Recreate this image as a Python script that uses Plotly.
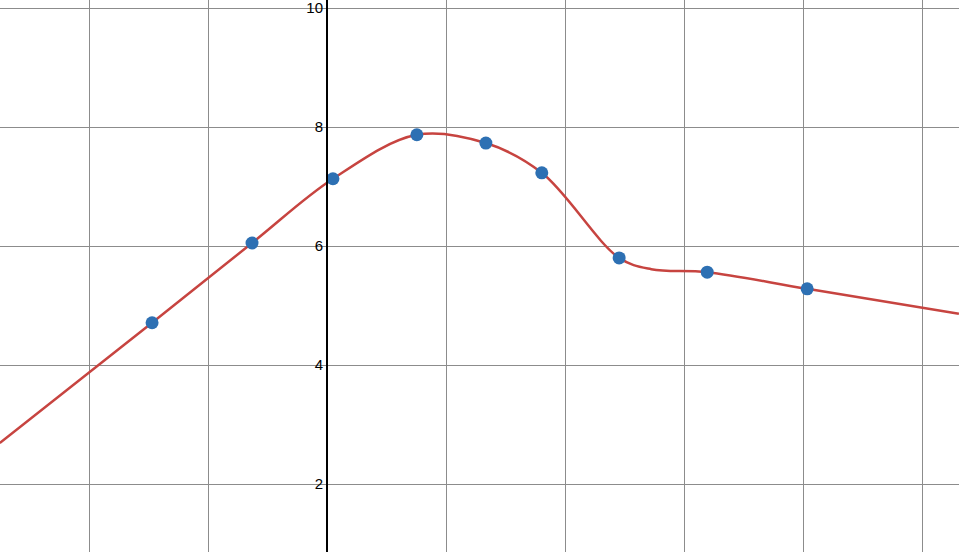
import plotly.graph_objects as go

# measured points (x, y)
pts_x = [-2.94, -1.26, 0.10, 1.51, 2.67, 3.61, 4.91, 6.39, 8.07]
pts_y = [4.71, 6.05, 7.13, 7.87, 7.73, 7.23, 5.80, 5.56, 5.28]

# curve, extended to the plot edges
curve_x = [-5.50, -2.94, -1.26, 0.10, 1.51, 2.67, 3.61, 4.91, 5.45, 6.39, 8.07, 10.62]
curve_y = [2.69, 4.71, 6.05, 7.13, 7.87, 7.73, 7.23, 5.80, 5.61, 5.56, 5.28, 4.86]

y_ticks = [2, 4, 6, 8, 10]

fig = go.Figure()

fig.add_trace(
    go.Scatter(
        x=curve_x,
        y=curve_y,
        mode='lines',
        line=dict(color='#c74440', width=2.5, shape='spline', smoothing=1.0),
        hoverinfo='skip'
    )
)

fig.add_trace(
    go.Scatter(
        x=pts_x,
        y=pts_y,
        mode='markers',
        marker=dict(color='#2d70b3', size=13)
    )
)

fig.update_layout(
    width=959,
    height=552,
    margin=dict(l=0, r=0, t=0, b=0),
    plot_bgcolor='white',
    paper_bgcolor='white',
    showlegend=False,
    xaxis=dict(
        range=[-327 / 59.5, (959 - 327) / 59.5],
        dtick=2,
        tick0=0,
        showticklabels=False,
        gridcolor='#8c8c8c',
        gridwidth=1,
        zeroline=False,
        showline=False
    ),
    yaxis=dict(
        range=[10 - 544 / 59.5, 10 + 8 / 59.5],
        tickvals=y_ticks,
        ticktext=[str(v) for v in y_ticks],
        anchor='free',
        position=327 / 959,
        showline=True,
        linecolor='black',
        linewidth=2,
        gridcolor='#8c8c8c',
        gridwidth=1,
        zeroline=False,
        ticks='',
        ticklabelstandoff=0,
        ticklabeloverflow='allow',
        tickfont=dict(family='Liberation Sans, Arial', size=15, color='black')
    )
)

# drop the default page margin so the chart fills the window
fig.write_html(
    'out.html',
    config={'displayModeBar': False},
    post_script="document.body.style.margin='0';"
)
